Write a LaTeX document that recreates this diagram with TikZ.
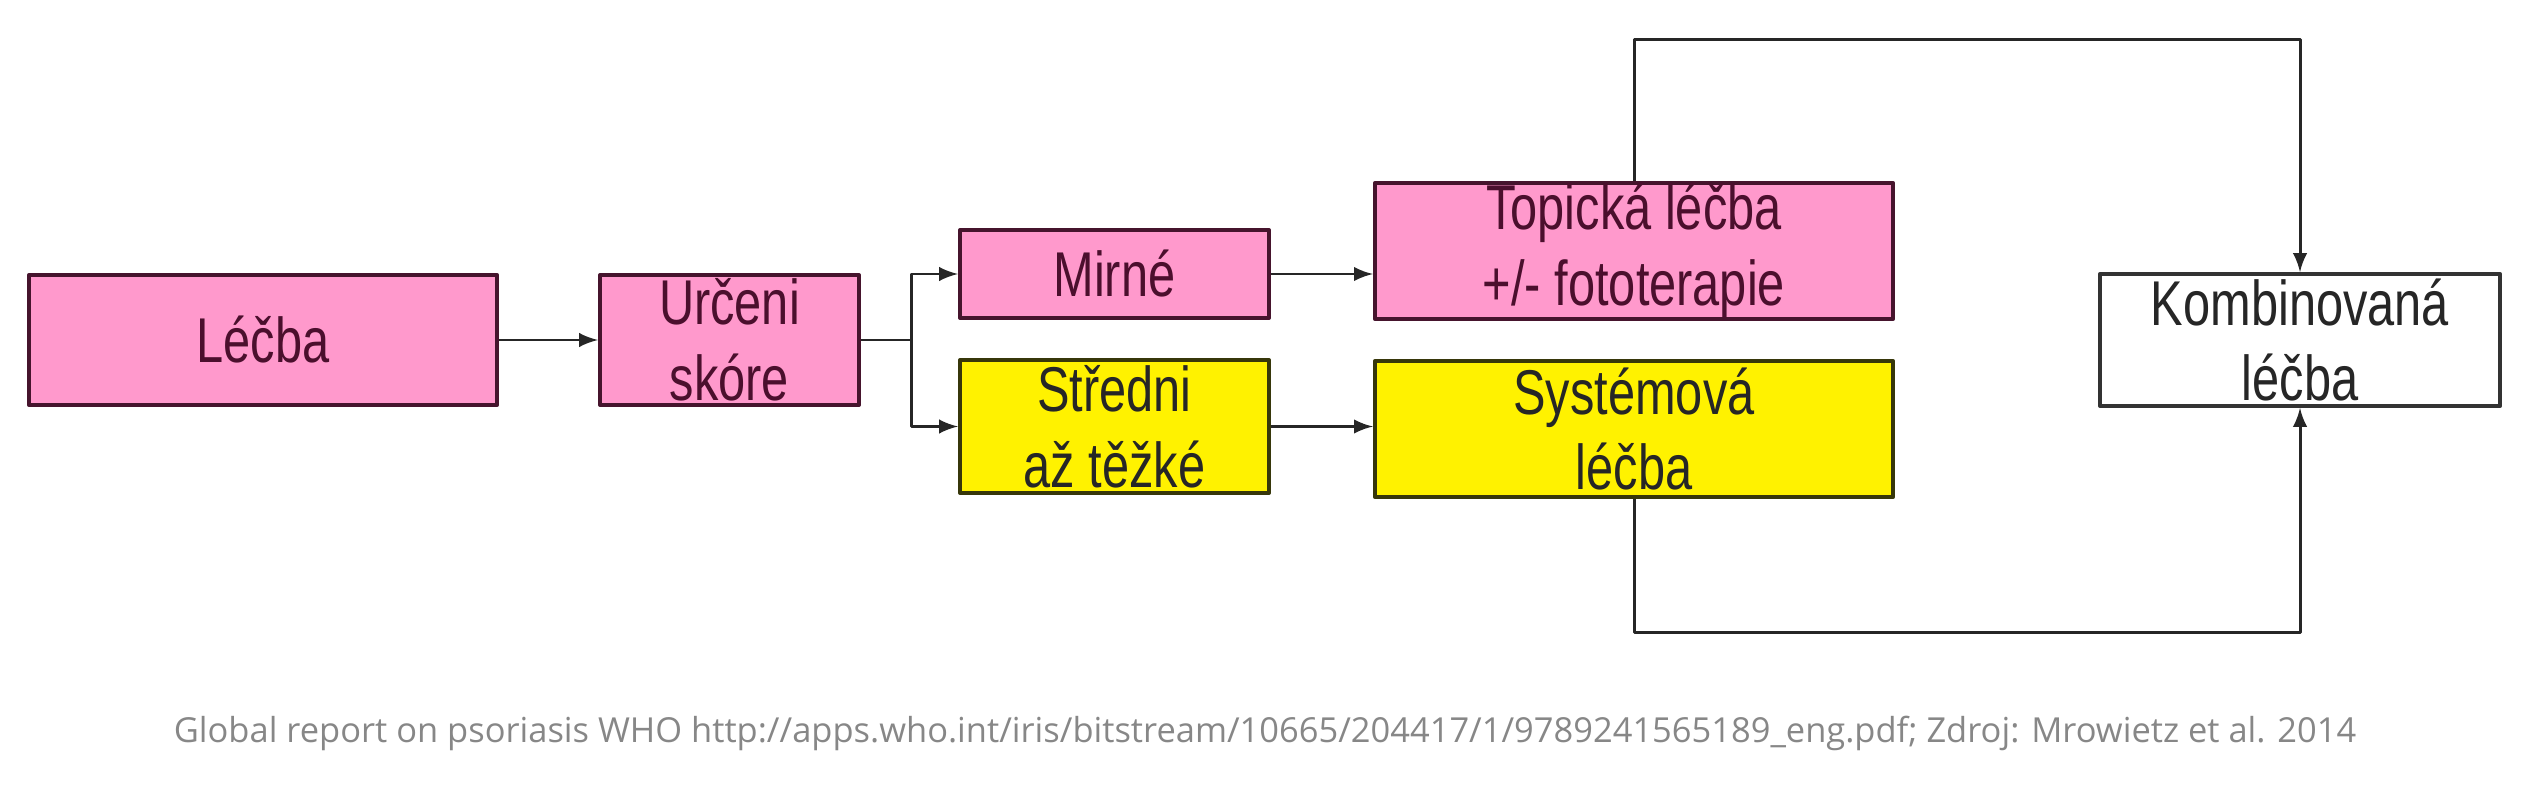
\documentclass[tikz,border=0pt]{standalone}
\usepackage{fontspec}
\setmainfont{Liberation Sans}
\newfontfamily\boxfont[FakeStretch=0.77]{Liberation Sans}
\newfontfamily\notefont{Open Sans}
\usetikzlibrary{calc}
\definecolor{pinkfill}{RGB}{255,153,204}
\definecolor{pinkline}{RGB}{70,20,45}
\definecolor{pinktext}{RGB}{75,15,45}
\definecolor{yellowline}{RGB}{55,55,10}
\definecolor{notegrey}{RGB}{135,135,135}
\tikzset{>=latex,
    box/.style={draw, line width=1.1pt, inner sep=0pt, align=center,
        font=\boxfont\fontsize{18}{21.6}\selectfont},
    pinkbox/.style={box, draw=pinkline, fill=pinkfill, text=pinktext},
    yellowbox/.style={box, draw=yellowline, fill=yellow, text=black!85},
    whitebox/.style={box, draw=black!80, fill=white, text=black!85},
    link/.style={line width=0.85pt, draw=black!85}
}

\begin{document}
\begin{tikzpicture}[x=0.01cm, y=-0.01cm, line join = round]
    \useasboundingbox (0,0) rectangle (2542,800);
    \node[pinkbox, minimum width=4.68cm, minimum height=1.30cm] (lecba) at (263,340) {Léčba};
    \node[pinkbox, minimum width=2.59cm, minimum height=1.30cm] (urceni) at (729.5,340) {Určeni\\skóre};
    \node[pinkbox, minimum width=3.09cm, minimum height=0.88cm] (mirne) at (1114.5,274) {Mirné};
    \node[yellowbox, minimum width=3.09cm, minimum height=1.33cm] (stredni) at (1114.5,426.5) {Středni\\až těžké};
    \node[pinkbox, minimum width=5.18cm, minimum height=1.36cm] (topicka) at (1634,251) {Topická léčba\\+/- fototerapie};
    \node[yellowbox, minimum width=5.18cm, minimum height=1.36cm] (system) at (1634,429) {Systémová\\léčba};
    \node[whitebox, minimum width=4.00cm, minimum height=1.32cm] (kombi) at (2300,340) {Kombinovaná\\léčba};
    \draw[link, ->] (lecba) -- (urceni);
    \draw[link] (urceni.east) -- ++(50,0) coordinate (fork);
    \draw[link, ->] (fork) |- (mirne.west);
    \draw[link, ->] (fork) |- (stredni.west);
    \draw[link, ->] (mirne.east) -- (mirne.east -| topicka.west);
    \draw[link, ->] (stredni.east) -- (stredni.east -| system.west);
    \draw[link, ->] (topicka.north) -- ++(0,-142) -| (kombi.north);
    \draw[link, ->] (system.south) -- ++(0,134) -| (kombi.south);
    \node[anchor=base, text=notegrey, font=\notefont\fontsize{9.8}{12}\selectfont] (source) at (1265,742) {Global report on psoriasis WHO http://apps.who.int/iris/bitstream/10665/204417/1/9789241565189\_eng.pdf; Zdroj: Mrowietz et al. 2014};
\end{tikzpicture}
\end{document}
